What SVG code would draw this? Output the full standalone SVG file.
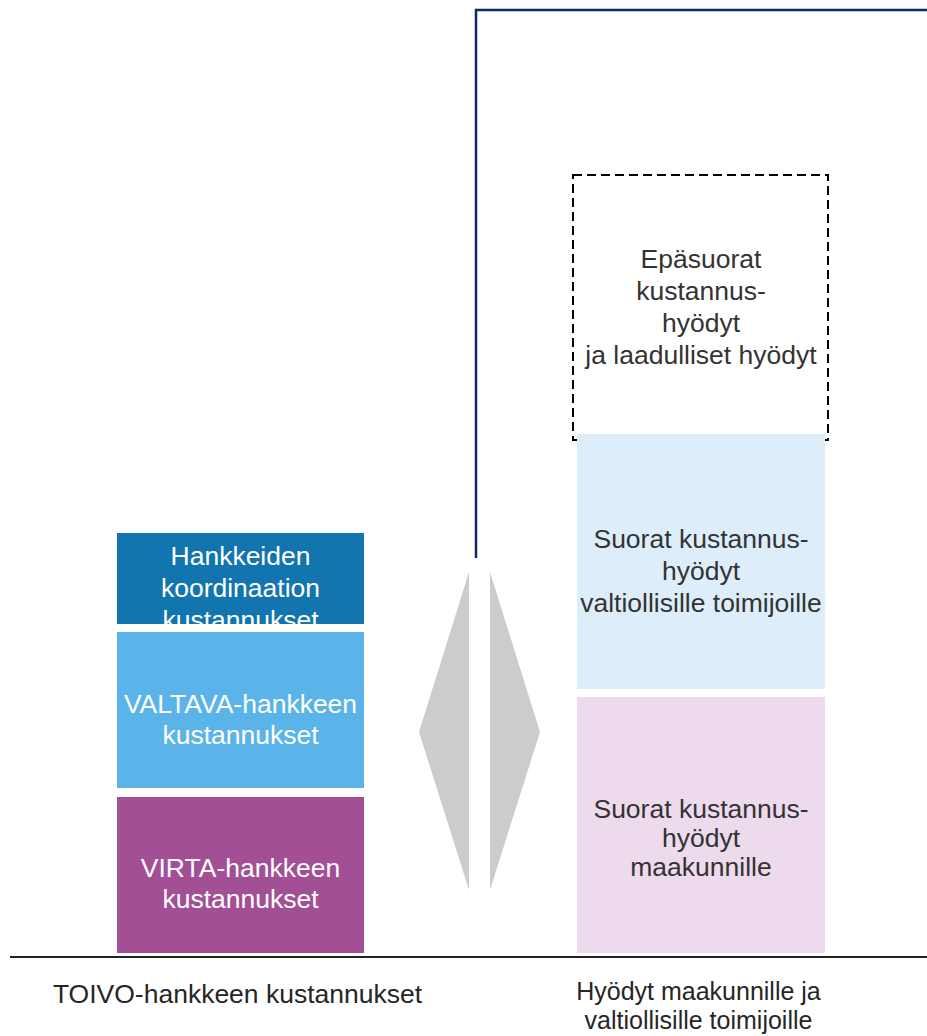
<svg xmlns="http://www.w3.org/2000/svg" width="927" height="1036" viewBox="0 0 927 1036">
<style>
  text { font-family: "Liberation Sans", Arial, sans-serif; font-size: 26.5px; text-anchor: middle; }
  .w { fill: #ffffff; }
  .d { fill: #333333; }
  .b { fill: #262626; }
  .s { font-size: 25px; }
</style>
<defs>
  <clipPath id="clipH"><rect x="117" y="533" width="247" height="91"/></clipPath>
</defs>
<rect width="927" height="1036" fill="#ffffff"/>

<g id="connectors">
  <polyline points="476,558 476,10 927,10" fill="none" stroke="#0B2A6E" stroke-width="2.5"/>
  <line x1="10" y1="957" x2="927" y2="957" stroke="#222222" stroke-width="2"/>
  <polygon points="469,572 419,732 469,890" fill="#CCCCCC"/>
  <polygon points="490,572 540,732 490,890" fill="#CCCCCC"/>
</g>

<g id="node-indirect">
  <rect x="573" y="175" width="255" height="265" fill="none" stroke="#000000" stroke-width="2" stroke-dasharray="9,5"/>
  <text class="d" x="701" y="268">Epäsuorat</text>
  <text class="d" x="701" y="300">kustannus-</text>
  <text class="d" x="701" y="332">hyödyt</text>
  <text class="d" x="701" y="364">ja laadulliset hyödyt</text>
</g>

<g id="node-hankkeiden">
  <rect x="117" y="533" width="247" height="91" fill="#1275B0"/>
  <g clip-path="url(#clipH)">
    <text class="w" x="240.5" y="565">Hankkeiden</text>
    <text class="w" x="240.5" y="597">koordinaation</text>
    <text class="w" x="240.5" y="629">kustannukset</text>
  </g>
</g>

<g id="node-valtava">
  <rect x="117" y="632" width="247" height="156" fill="#5AB4E9"/>
  <text class="w" x="240.5" y="713">VALTAVA-hankkeen</text>
  <text class="w" x="240.5" y="744">kustannukset</text>
</g>

<g id="node-virta">
  <rect x="117" y="797" width="247" height="156" fill="#A34F96"/>
  <text class="w" x="240.5" y="877">VIRTA-hankkeen</text>
  <text class="w" x="240.5" y="908">kustannukset</text>
</g>

<g id="node-valtio">
  <rect x="577" y="434" width="248" height="255" fill="#DDEEFA"/>
  <text class="d" x="701" y="548">Suorat kustannus-</text>
  <text class="d" x="701" y="580">hyödyt</text>
  <text class="d" x="701" y="612">valtiollisille toimijoille</text>
</g>

<g id="node-maakunnat">
  <rect x="577" y="697" width="248" height="256" fill="#EDDAEC"/>
  <text class="d" x="701" y="818">Suorat kustannus-</text>
  <text class="d" x="701" y="847">hyödyt</text>
  <text class="d" x="701" y="876">maakunnille</text>
</g>

<g id="label-costs">
  <text class="b" x="237.5" y="1003">TOIVO-hankkeen kustannukset</text>
</g>
<g id="label-benefits">
  <text class="b s" x="698.5" y="1000">Hyödyt maakunnille ja</text>
  <text class="b s" x="698.5" y="1029">valtiollisille toimijoille</text>
</g>
</svg>
